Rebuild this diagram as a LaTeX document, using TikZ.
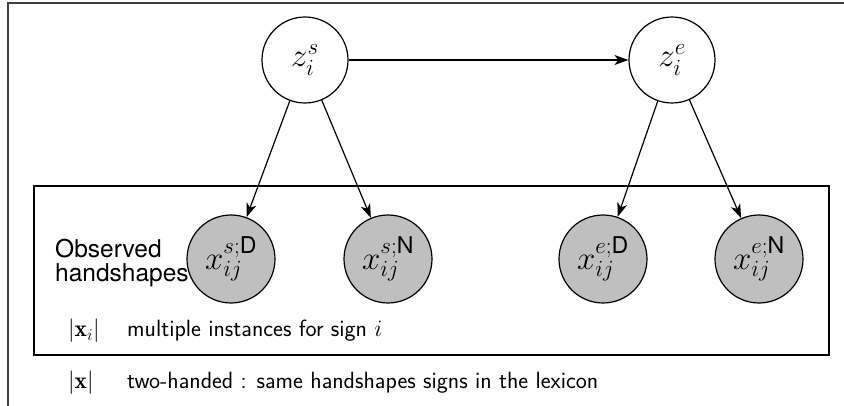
\RequirePackage{fix-cm}
\documentclass[tikz,border=0pt]{standalone}
\usepackage{amsmath}
\usepackage{fontspec}
\newfontfamily\helv{TeX Gyre Heros}
\usetikzlibrary{arrows.meta}
\tikzset{
    latent/.style = {circle, draw, line width=1.2pt, minimum size=86pt, inner sep=0pt,
        font=\fontsize{33}{36}\selectfont},
    obs/.style = {latent, minimum size=88pt, fill=black!25},
    edge/.style = {-{Stealth[length=14pt, width=10pt, inset=4pt]}, line width=1.2pt},
    plate/.style = {draw, line width=1.3pt},
    note/.style = {anchor=base west, inner sep=0pt, font=\fontsize{23.5}{28}\selectfont\sffamily},
}

\begin{document}
\begin{tikzpicture}[x=1pt, y=-1pt]
\useasboundingbox (0,0) rectangle (844,406);
\clip (0,0) rectangle (844,406);

%outer plate
\draw[plate, line width=2pt, black!75] (8,3) rectangle (900,460);

%start and end
\node[latent] (zs) at (305,60) {$z_i^s$};
\node[latent] (ze) at (672,60) {$z_i^e$};

%observed handshapes
\node[obs] (xsd) at (231,259) {$x_{ij}^{s;\text{\helv D}}$};
\node[obs] (xsn) at (388,259) {$x_{ij}^{s;\text{\helv N}}$};
\node[obs] (xed) at (603,259) {$x_{ij}^{e;\text{\helv D}}$};
\node[obs] (xen) at (759,259) {$x_{ij}^{e;\text{\helv N}}$};

\draw[edge] (zs) -- (ze);
\draw[edge] (zs) -- (xsd);
\draw[edge] (zs) -- (xsn);
\draw[edge] (ze) -- (xed);
\draw[edge] (ze) -- (xen);

%inner plate
\draw[plate] (34,186) rectangle (829,355);
\node[anchor=west, align=left, inner sep=0pt, font=\fontsize{24.5}{24.5}\helv] (obslabel) at (55,263) {Observed\\handshapes};

%plate notes
\node[note] (nxi) at (68,337) {$|\mathbf{x}_i|$};
\node[note] (txi) at (127,337) {multiple instances for sign $i$};
\node[note] (nx) at (68,388) {$|\mathbf{x}|$};
\node[note] (tx) at (127,388) {two-handed : same handshapes signs in the lexicon};
\end{tikzpicture}
\end{document}
